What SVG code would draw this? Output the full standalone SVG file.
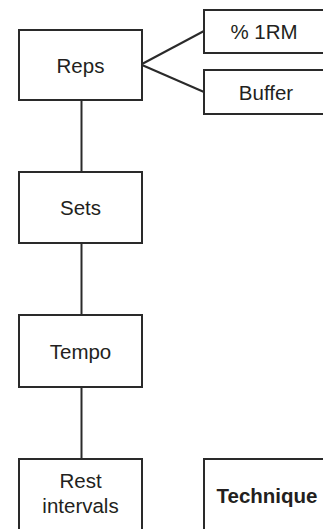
<svg xmlns="http://www.w3.org/2000/svg" width="323" height="529" viewBox="0 0 323 529">
<style>
.box{fill:#fff;stroke:#2a2a2a;stroke-width:2}
.lbl{font-family:"Liberation Sans",Arial,sans-serif;font-size:20.5px;fill:#231f20;text-anchor:middle}
.b{font-weight:bold}
.con{stroke:#2a2a2a;stroke-width:2;fill:none}
</style>
<rect width="323" height="529" fill="#fff"/>
<g id="connectors">
<line class="con" x1="81.5" y1="100" x2="81.5" y2="172"/>
<line class="con" x1="81.5" y1="243" x2="81.5" y2="315"/>
<line class="con" x1="81.5" y1="387" x2="81.5" y2="459"/>
<line class="con" x1="142" y1="64" x2="204" y2="31"/>
<line class="con" x1="142" y1="65" x2="204" y2="92"/>
</g>
<g id="reps"><rect class="box" x="19" y="30" width="123" height="70"/><text class="lbl" x="80.5" y="72.5">Reps</text></g>
<g id="rm"><rect class="box" x="204" y="10" width="123" height="43"/><text class="lbl" x="264" y="39">% 1RM</text></g>
<g id="buffer"><rect class="box" x="204" y="70" width="123" height="44"/><text class="lbl" x="266" y="99.5">Buffer</text></g>
<g id="sets"><rect class="box" x="19" y="172" width="123" height="71"/><text class="lbl" x="80.5" y="215">Sets</text></g>
<g id="tempo"><rect class="box" x="19" y="315" width="123" height="72"/><text class="lbl" x="80.5" y="358.5">Tempo</text></g>
<g id="rest"><rect class="box" x="19" y="459" width="123" height="80"/><text class="lbl" x="80.5" y="488">Rest</text><text class="lbl" x="80.5" y="513">intervals</text></g>
<g id="technique"><rect class="box" x="204" y="459" width="123" height="80"/><text class="lbl b" x="267" y="503">Technique</text></g>
</svg>
